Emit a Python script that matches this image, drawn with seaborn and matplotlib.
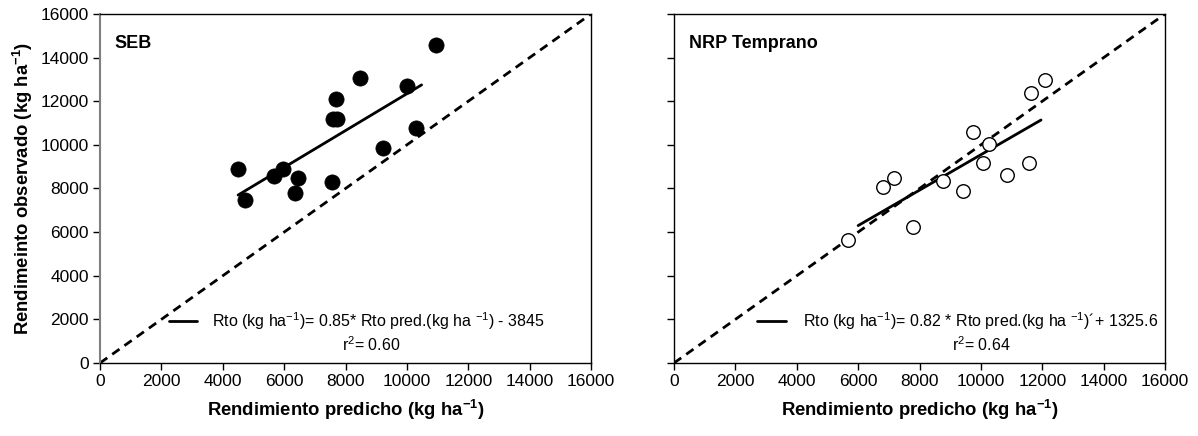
import numpy as np
import pandas as pd
import matplotlib
matplotlib.use("Agg")
import matplotlib.pyplot as plt
import seaborn as sns

# Values
seb_pred = [4490, 4720, 5680, 5970, 6340, 6460, 7570, 7580, 7720, 7680, 8460, 9230, 10010, 10310, 10960]
seb_obs = [8880, 7470, 8590, 8890, 7780, 8470, 8280, 11170, 11170, 12090, 13080, 9840, 12700, 10770, 14580]
seb_line_x = [4500, 10480]
seb_line_y = [7700, 12750]

nrp_pred = [5680, 6820, 7170, 7780, 8750, 9430, 9740, 10270, 10080, 10840, 11560, 11630, 12100]
nrp_obs = [5640, 8060, 8480, 6250, 8360, 7890, 10580, 10030, 9160, 8620, 9180, 12360, 12970]
nrp_line_x = [6000, 11960]
nrp_line_y = [6300, 11140]

one_to_one = [0, 16000]
ticks = list(range(0, 16001, 2000))

sns.set_style("ticks")
plt.rcParams["font.family"] = ["Liberation Sans", "DejaVu Sans"]
plt.rcParams["mathtext.fontset"] = "custom"
plt.rcParams["mathtext.rm"] = "Liberation Sans"
plt.rcParams["mathtext.bf"] = "Liberation Sans:bold"
plt.rcParams["mathtext.it"] = "Liberation Sans"
plt.rcParams["text.color"] = "black"
plt.rcParams["axes.labelcolor"] = "black"
plt.rcParams["xtick.color"] = "black"
plt.rcParams["ytick.color"] = "black"

fig = plt.figure(figsize=(11.98, 4.36), dpi=100)
ax1 = fig.add_axes([100 / 1198, 73 / 436, 491 / 1198, 349 / 436])
ax2 = fig.add_axes([674 / 1198, 73 / 436, 491 / 1198, 349 / 436])

seb = pd.DataFrame({"pred": seb_pred, "obs": seb_obs})
nrp = pd.DataFrame({"pred": nrp_pred, "obs": nrp_obs})

# 1:1 lines
for ax in (ax1, ax2):
    ax.plot(one_to_one, one_to_one, color="black", lw=2, ls=(0, (3.2, 2.2)), zorder=1)

# SEB panel
sns.scatterplot(data=seb, x="pred", y="obs", ax=ax1, s=120, color="black",
                edgecolor="black", linewidth=0.5, zorder=3)
sns.lineplot(x=seb_line_x, y=seb_line_y, ax=ax1, color="black", lw=2, zorder=2)

# NRP panel
sns.scatterplot(data=nrp, x="pred", y="obs", ax=ax2, s=95, facecolor="white",
                edgecolor="black", linewidth=1.0, zorder=3)
sns.lineplot(x=nrp_line_x, y=nrp_line_y, ax=ax2, color="black", lw=2, zorder=2)

for ax in (ax1, ax2):
    ax.set_xlim(0, 16000)
    ax.set_ylim(0, 16000)
    ax.set_xticks(ticks)
    ax.set_yticks(ticks)
    ax.tick_params(axis="both", direction="out", length=5, width=1, labelsize=12.5,
                   color="black", labelcolor="black", pad=3)
    for sp in ax.spines.values():
        sp.set_color("black")
        sp.set_linewidth(1)
    ax.set_xlabel("Rendimiento predicho (kg ha$^{\\mathbf{-1}}$)", fontsize=13.3,
                  fontweight="bold", labelpad=6)
    ax.set_ylabel("")

ax1.spines["left"].set_color("#7f7f7f")
ax1.spines["left"].set_linewidth(1.5)
ax2.set_yticklabels([])
ax1.set_ylabel("Rendimeinto observado (kg ha$^{\\mathbf{-1}}$)", fontsize=13.3,
               fontweight="bold", labelpad=4)

# panel titles
ax1.text(0.03, 0.915, "SEB", transform=ax1.transAxes, fontsize=13, fontweight="bold",
         va="center", ha="left")
ax2.text(0.03, 0.915, "NRP Temprano", transform=ax2.transAxes, fontsize=13,
         fontweight="bold", va="center", ha="left")

# legends (line sample + equation)
ax1.plot([2250, 3150], [1920, 1920], color="black", lw=2)
ax1.text(3650, 1920, "Rto (kg ha$^{-1}$)= 0.85* Rto pred.(kg ha $^{-1}$) - 3845",
         fontsize=11.5, va="center", ha="left")
ax1.text(8850, 820, "r$^{2}$= 0.60", fontsize=11.5, va="center", ha="center")

ax2.plot([2700, 3650], [1920, 1920], color="black", lw=2)
ax2.text(4200, 1920, "Rto (kg ha$^{-1}$)= 0.82 * Rto pred.(kg ha $^{-1}$)\u00b4+ 1325.6",
         fontsize=11.5, va="center", ha="left")
ax2.text(10000, 820, "r$^{2}$= 0.64", fontsize=11.5, va="center", ha="center")

fig.savefig("out.png", dpi=100)
